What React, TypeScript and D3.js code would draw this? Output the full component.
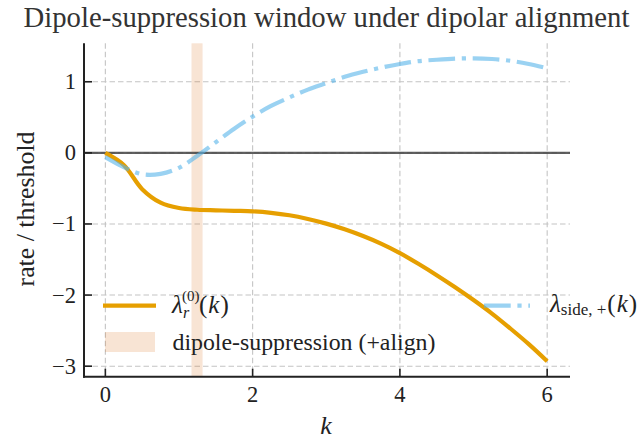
import React, { useRef, useEffect } from 'react';
import * as d3 from 'd3';

// sample grid of k and the two curves
const kValues = [0, 0.25, 0.5, 0.75, 1, 1.25, 1.5, 1.75, 2, 2.25, 2.5, 2.75, 3, 3.25, 3.5, 3.75, 4, 4.25, 4.5, 4.75, 5, 5.25, 5.5, 5.75, 6];
const lambdaR = [0, -0.17, -0.51, -0.7, -0.775, -0.8, -0.808, -0.815, -0.822, -0.843, -0.878, -0.93, -0.995, -1.075, -1.17, -1.28, -1.41, -1.56, -1.72, -1.89, -2.07, -2.26, -2.47, -2.69, -2.93];
const lambdaSide = [-0.06, -0.2, -0.3, -0.295, -0.21, -0.04, 0.15, 0.34, 0.51, 0.66, 0.78, 0.89, 0.98, 1.07, 1.14, 1.2, 1.25, 1.29, 1.31, 1.325, 1.33, 1.32, 1.295, 1.25, 1.19];
const bandRange: [number, number] = [1.17, 1.32];
const xTicks = [0, 2, 4, 6];
const yTicks = [-3, -2, -1, 0, 1];

const TITLE = 'Dipole-suppression window under dipolar alignment';
const Y_LABEL = 'rate / threshold';
const BAND_LABEL = 'dipole-suppression (+align)';
const ORANGE = '#E69F00';
const BLUE = '#56B4E9';
const BAND = '#D55E00';
const SERIF = "'Liberation Serif'";

type TextSel = d3.Selection<SVGTextElement, unknown, null, undefined>;

// serif text helper: every text carries its own font family
function addText(parent: d3.Selection<any, unknown, null, undefined>, x: number, y: number, size: number, str: string, italic = false): TextSel {
  return parent.append('text')
    .attr('x', x).attr('y', y)
    .style('font-family', SERIF)
    .style('font-size', `${size}px`)
    .style('font-style', italic ? 'italic' : 'normal')
    .attr('fill', '#222')
    .text(str) as TextSel;
}

// grow or shrink a text's font size so it spans the given width
function fitWidth(sel: TextSel, base: number, width: number) {
  const node = sel.node();
  if (node == null) return;
  const len = node.getComputedTextLength();
  if (len > 0) sel.style('font-size', `${(base * width) / len}px`);
}

function drawChart(svgEle: SVGSVGElement) {
  const svg = d3.select(svgEle);
  svg.selectAll('*').remove();

  const x = d3.scaleLinear().domain([-0.29, 6.31]).range([84, 570]);
  const y = d3.scaleLinear().domain([-3.148, 1.541]).range([376.7, 43.3]);
  const [x0, x1] = x.range();
  const [yBottom, yTop] = y.range();

  // grid
  const grid = svg.append('g').attr('stroke', '#c4c4c4').attr('stroke-width', 1.1).attr('stroke-dasharray', '5.5 3');
  grid.selectAll('line.gx').data(xTicks).enter().append('line')
    .attr('x1', (d) => x(d)).attr('x2', (d) => x(d)).attr('y1', yTop).attr('y2', yBottom);
  grid.selectAll('line.gy').data(yTicks).enter().append('line')
    .attr('x1', x0).attr('x2', x1).attr('y1', (d) => y(d)).attr('y2', (d) => y(d));

  // suppression window
  svg.append('rect')
    .attr('x', x(bandRange[0])).attr('width', x(bandRange[1]) - x(bandRange[0]))
    .attr('y', yTop).attr('height', yBottom - yTop)
    .attr('fill', BAND).attr('fill-opacity', 0.17);

  // zero line
  svg.append('line')
    .attr('x1', x0).attr('x2', x1).attr('y1', y(0)).attr('y2', y(0))
    .attr('stroke', '#444').attr('stroke-opacity', 0.85).attr('stroke-width', 2.2);

  const line = d3.line<number>()
    .x((_, i) => x(kValues[i]))
    .y((d) => y(d))
    .curve(d3.curveCatmullRom.alpha(0.5));

  svg.append('path').attr('d', line(lambdaR))
    .attr('fill', 'none').attr('stroke', ORANGE).attr('stroke-width', 4.2);
  svg.append('path').attr('d', line(lambdaSide))
    .attr('fill', 'none').attr('stroke', BLUE).attr('stroke-opacity', 0.6)
    .attr('stroke-width', 4.2).attr('stroke-dasharray', '26.7 6.7 4.2 6.7');

  // spines
  svg.append('line').attr('x1', x0).attr('x2', x0).attr('y1', yTop).attr('y2', yBottom + 1)
    .attr('stroke', '#222').attr('stroke-width', 2);
  svg.append('line').attr('x1', x0 - 1).attr('x2', x1).attr('y1', yBottom).attr('y2', yBottom)
    .attr('stroke', '#222').attr('stroke-width', 2);

  // ticks (inward) and labels
  svg.selectAll('line.tx').data(xTicks).enter().append('line')
    .attr('x1', (d) => x(d)).attr('x2', (d) => x(d)).attr('y1', yBottom).attr('y2', yBottom - 8)
    .attr('stroke', '#222').attr('stroke-width', 1.6);
  svg.selectAll('line.ty').data(yTicks).enter().append('line')
    .attr('x1', x0).attr('x2', x0 + 8).attr('y1', (d) => y(d)).attr('y2', (d) => y(d))
    .attr('stroke', '#222').attr('stroke-width', 1.6);

  xTicks.forEach((t) => {
    addText(svg, x(t), 401.5, 22.5, d3.format('d')(t)).attr('text-anchor', 'middle');
  });
  yTicks.forEach((t) => {
    addText(svg, 76, y(t) + 7.5, 22.5, t < 0 ? '\u2212' + Math.abs(t) : String(t)).attr('text-anchor', 'end');
  });

  // title and axis labels
  const title = addText(svg, 326.5, 27, 24, TITLE).attr('text-anchor', 'middle').attr('fill', '#333');
  fitWidth(title, 24, 606);
  addText(svg, 326, 434, 26, 'k', true).attr('text-anchor', 'middle');
  const yLabel = addText(svg, 0, 0, 21, Y_LABEL)
    .attr('transform', 'translate(33.5, 209) rotate(-90)').attr('text-anchor', 'middle');
  fitWidth(yLabel, 21, 155);

  // legend, column 1
  svg.append('line').attr('x1', 103).attr('x2', 156).attr('y1', 305.7).attr('y2', 305.7)
    .attr('stroke', ORANGE).attr('stroke-width', 4.2);
  addText(svg, 172, 313, 25, 'λ', true);
  addText(svg, 182, 301, 15, '(0)');
  addText(svg, 183, 318, 16, 'r', true);
  const lrk = addText(svg, 199, 313, 25, '(');
  lrk.append('tspan').style('font-style', 'italic').attr('dx', 1).text('k');
  lrk.append('tspan').attr('dx', 1).text(')');

  svg.append('rect').attr('x', 105).attr('y', 332).attr('width', 50).attr('height', 20)
    .attr('fill', BAND).attr('fill-opacity', 0.17);
  const bandLabel = addText(svg, 172.5, 350, 22, BAND_LABEL);
  fitWidth(bandLabel, 22, 263);

  // legend, column 2
  svg.append('line').attr('x1', 484).attr('x2', 530).attr('y1', 305.7).attr('y2', 305.7)
    .attr('stroke', BLUE).attr('stroke-opacity', 0.6).attr('stroke-width', 4.2)
    .attr('stroke-dasharray', '26.7 6.7 4.2 6.7');
  const ls = addText(svg, 550, 312, 25, 'λ', true);
  ls.append('tspan').style('font-size', '17px').style('font-style', 'normal').attr('dy', 3).text('side, +');
  ls.append('tspan').style('font-size', '25px').style('font-style', 'normal').attr('dx', 1).attr('dy', -3).text('(');
  ls.append('tspan').style('font-size', '25px').style('font-style', 'italic').attr('dx', 1).text('k');
  ls.append('tspan').style('font-size', '25px').style('font-style', 'normal').attr('dx', 1).text(')');
}

export default function App(): JSX.Element {
  const svgRef = useRef<SVGSVGElement>(null);

  useEffect(() => {
    const svgEle = svgRef.current;
    if (svgEle == null) {
      return;
    }
    drawChart(svgEle);
  }, []);

  return (
    <svg
      ref={svgRef}
      width={637}
      height={439}
      style={{ position: 'absolute', left: 0, top: 0, background: '#fff' }}
    />
  );
}
